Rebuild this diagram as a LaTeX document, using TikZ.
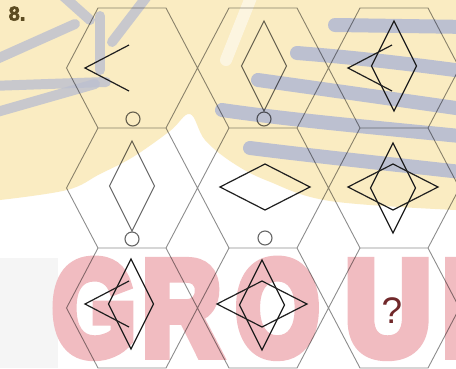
\documentclass[tikz,border=0pt]{standalone}
\usepackage{fontspec}
\setmainfont{Liberation Sans}
\newfontfamily\wmfont{Liberation Sans Bold}[FakeBold=8]
\newfontfamily\numfont{Liberation Sans Bold}[FakeBold=3]
\usepackage{graphicx}
\definecolor{wmyellow}{RGB}{250,236,194}
\definecolor{wmstripe}{RGB}{188,192,208}
\definecolor{wmpink}{RGB}{241,188,193}
\definecolor{numcol}{RGB}{92,76,34}
\definecolor{qcol}{RGB}{112,40,42}
\tikzset{
  hexline/.style={draw=black, draw opacity=0.45, line width=0.9pt, line join=miter},
  figline/.style={draw=black!88, line width=1.2pt, line join=miter},
  lightline/.style={draw=black, draw opacity=0.6, line width=1.1pt, line join=miter},
  stripe/.style={draw=wmstripe, line width=14pt, line cap=round},
  thinstripe/.style={draw=wmstripe, draw opacity=0.8, line width=10pt, line cap=round},
  wmtext/.style={anchor=base west, inner sep=0pt, text=wmpink},
  vrhomb/.pic={\draw[pic actions] (0,-45) -- (22.5,0) -- (0,45) -- (-22.5,0) -- cycle;},
  hrhomb/.pic={\draw[pic actions] (-45,0) -- (0,-23) -- (45,0) -- (0,23) -- cycle;},
  chev/.pic={\draw[pic actions] (44,-23) -- (0,0) -- (44,23);},
}
\newcommand{\wmglyph}[3]{\scalebox{#1}[#2]{\wmfont\fontsize{10}{10}\selectfont #3}}
\begin{document}
\begin{tikzpicture}[x=1pt,y=-1pt]
\clip (0,0) rectangle (456,368);
\fill[white] (0,0) rectangle (456,368);
% watermark: yellow area
\path[fill=wmyellow] (0,0) -- (456,0) -- (456,210) -- plot[smooth, tension=0.6] coordinates {(456,210) (330,201) (268,181) (233,163) (205,140) (190,114) (170,131) (133,157) (100,174) (67,190) (0,200)} -- cycle;
\begin{scope}
\clip (0,0) -- (456,0) -- (456,210) -- plot[smooth, tension=0.6] coordinates {(456,210) (330,201) (268,181) (233,163) (205,140) (190,114) (170,131) (133,157) (100,174) (67,190) (0,200)} -- cycle;
\draw[stripe] (335,25) -- (470,27);
\draw[stripe] (297,53) .. controls (360,58) and (410,64) .. (470,72);
\draw[stripe] (258,80) .. controls (330,90) and (400,100) .. (470,110);
\draw[stripe] (222,110) .. controls (290,120) and (380,128) .. (470,137);
\draw[stripe] (250,148) .. controls (330,158) and (400,165) .. (470,173);
\draw[thinstripe] (100,16) -- (100,70);
\draw[thinstripe] (-10,62) -- (75,24);
\draw[thinstripe] (-10,86) -- (106,82);
\draw[thinstripe] (-10,114) -- (95,84);
\draw[thinstripe] (148,-5) -- (112,42);
\draw[thinstripe] (62,-5) -- (90,20);
\draw[white, opacity=0.5, line width=12pt, line cap=round] (252,-5) -- (226,60);
\end{scope}
% watermark: grey patch and pink letters
\fill[black!4] (0,258) rectangle (58,368);
\node[wmtext] (wmG) at (52.2,354.5) {\wmglyph{10.7}{13.4}{G}};
\node[wmtext] (wmR) at (142,354.5) {\wmglyph{10.9}{13.4}{R}};
\node[wmtext] (wmO) at (235.7,354.5) {\wmglyph{10.7}{13.4}{O}};
\node[wmtext] (wmU) at (345,354.5) {\wmglyph{11.9}{13.4}{U}};
\node[wmtext] (wmP) at (442,354.5) {\wmglyph{11}{13.4}{P}};
% hexagon grid
\draw[hexline] \foreach \cx/\cy in {132/68,263/68,394/68,132/188,263/188,394/188,132/308,263/308,394/308}{
  ({\cx-65.5},\cy) -- ({\cx-34},{\cy-60}) -- ({\cx+34},{\cy-60}) -- ({\cx+65.5},\cy) -- ({\cx+34},{\cy+60}) -- ({\cx-34},{\cy+60}) -- cycle};
% row 1
\pic[figline] at (85,68) {chev};
\draw[lightline] (133,119) circle[radius=7pt];
\pic[lightline] at (264,66) {vrhomb};
\draw[lightline] (264,119) circle[radius=7pt];
\pic[figline] at (394,66) {vrhomb};
\pic[figline] at (348,68) {chev};
% row 2
\pic[lightline] at (132,186) {vrhomb};
\draw[lightline] (132,239) circle[radius=7pt];
\pic[figline] at (265,187) {hrhomb};
\draw[lightline] (265,238) circle[radius=7pt];
\pic[figline] at (393,188) {vrhomb};
\pic[figline] at (393,187) {hrhomb};
% row 3
\pic[figline] at (131,304) {vrhomb};
\pic[figline] at (85,304) {chev};
\pic[figline] at (262,305) {vrhomb};
\pic[figline] at (262,304) {hrhomb};
\node[anchor=base, inner sep=0pt, font=\fontsize{37}{37}\selectfont, text=qcol] (q) at (392,323) {?};
% number
\node[anchor=base west, inner sep=0pt, font=\numfont\fontsize{20}{20}\selectfont, text=numcol] (num) at (8.5,20.5) {8.};
\end{tikzpicture}
\end{document}
